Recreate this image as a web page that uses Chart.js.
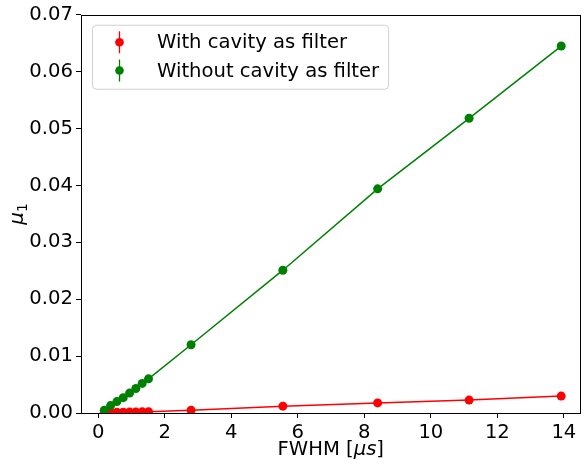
<!DOCTYPE html>
<html>
<head>
<meta charset="utf-8">
<script src="https://cdn.jsdelivr.net/npm/chart.js@4"></script>
<style>
  html, body { margin: 0; padding: 0; background: #fff; }
</style>
</head>
<body>
<canvas id="chart" width="585" height="465"></canvas>
<script>
// FWHM in microseconds, shared by both series
const fwhm = [0.18, 0.37, 0.56, 0.75, 0.94, 1.13, 1.32, 1.51, 2.79, 5.55, 8.40, 11.15, 13.92];
const muWithCavity = [0.00008, 0.0001, 0.00012, 0.00014, 0.00016, 0.00018, 0.0002, 0.00022, 0.0005, 0.0012, 0.00177, 0.00227, 0.00297];
const muWithoutCavity = [0.0005, 0.0013, 0.0020, 0.0027, 0.0035, 0.0043, 0.0052, 0.0060, 0.0120, 0.0251, 0.0394, 0.0518, 0.0645];
const seriesLabels = ['With cavity as filter', 'Without cavity as filter'];
const seriesColors = ['#ff0000', '#008000'];
const xTickValues = [0, 2, 4, 6, 8, 10, 12, 14];
const yTickValues = [0, 0.01, 0.02, 0.03, 0.04, 0.05, 0.06, 0.07];

const FONT = 'DejaVu Sans';
const toPoints = ys => fwhm.map((x, i) => ({ x, y: ys[i] }));

// draw a row of text pieces with their own fonts (for the math bits in the axis titles)
function drawRuns(ctx, runs, cx, cy) {
    let total = 0;
    runs.forEach(r => { ctx.font = r.font; r.w = ctx.measureText(r.t).width; total += r.w; });
    let x = cx - total / 2;
    ctx.textBaseline = 'alphabetic';
    ctx.textAlign = 'left';
    runs.forEach(r => {
        ctx.font = r.font;
        ctx.fillText(r.t, x, cy + (r.dy || 0));
        x += r.w;
    });
}

// frame on all four sides like matplotlib spines, plus axis titles
const framePlugin = {
    id: 'frame',
    afterDraw(chart) {
        const { ctx, chartArea: a } = chart;
        ctx.save();
        ctx.strokeStyle = '#000';
        ctx.lineWidth = 1;
        ctx.strokeRect(Math.round(a.left) + 0.5, Math.round(a.top) + 0.5, Math.round(a.right - a.left) - 1, Math.round(a.bottom - a.top));
        ctx.fillStyle = '#000';
        drawRuns(ctx, [
            { t: 'FWHM [', font: '19.6px "' + FONT + '"' },
            { t: 'μs', font: 'italic 19.6px "' + FONT + '"' },
            { t: ']', font: '19.6px "' + FONT + '"' }
        ], (a.left + a.right) / 2, a.bottom + 42);
        ctx.translate(23, (a.top + a.bottom) / 2);
        ctx.rotate(-Math.PI / 2);
        drawRuns(ctx, [
            { t: 'μ', font: 'italic 20px "' + FONT + '"' },
            { t: '1', font: '14px "' + FONT + '"', dy: 4 }
        ], 0, 0);
        ctx.restore();
    }
};

// legend box in the upper left, with errorbar-style markers
const legendPlugin = {
    id: 'boxLegend',
    afterDraw(chart) {
        const { ctx, chartArea: a } = chart;
        const ds = chart.data.datasets;
        ctx.save();
        ctx.font = '19.6px "' + FONT + '"';
        const textW = Math.max(...ds.map(d => ctx.measureText(d.label).width));
        const left = a.left + 11, top = a.top + 10;
        const markerX = left + 27.5, textX = left + 65;
        const w = textX - left + textW + 9, h = 64;
        ctx.fillStyle = 'rgba(255,255,255,0.8)';
        ctx.strokeStyle = '#d0d0d0';
        ctx.lineWidth = 1;
        ctx.beginPath();
        ctx.roundRect(left + 0.5, top + 0.5, w, h, 4);
        ctx.fill();
        ctx.stroke();
        ds.forEach((d, i) => {
            const cy = top + 17.5 + i * 28.3;
            ctx.strokeStyle = d.borderColor;
            ctx.lineWidth = 1.3;
            ctx.beginPath();
            ctx.moveTo(markerX, cy - 11);
            ctx.lineTo(markerX, cy + 11);
            ctx.stroke();
            ctx.fillStyle = d.backgroundColor;
            ctx.beginPath();
            ctx.arc(markerX, cy, 4.3, 0, Math.PI * 2);
            ctx.fill();
            ctx.fillStyle = '#000';
            ctx.textBaseline = 'middle';
            ctx.fillText(d.label, textX, cy + 1);
        });
        ctx.restore();
    }
};

new Chart(document.getElementById('chart'), {
    type: 'scatter',
    data: {
        datasets: [{
            label: seriesLabels[0],
            data: toPoints(muWithCavity),
            showLine: true,
            borderColor: seriesColors[0],
            backgroundColor: seriesColors[0],
            borderWidth: 1.5,
            pointRadius: 4.5,
            pointHoverRadius: 4.5,
            pointBorderWidth: 0,
            order: 2
        }, {
            label: seriesLabels[1],
            data: toPoints(muWithoutCavity),
            showLine: true,
            borderColor: seriesColors[1],
            backgroundColor: seriesColors[1],
            borderWidth: 1.5,
            pointRadius: 4.5,
            pointHoverRadius: 4.5,
            pointBorderWidth: 0,
            order: 1
        }]
    },
    options: {
        responsive: false,
        animation: false,
        layout: { padding: { top: 12, right: 1, left: 0, bottom: 0 } },
        plugins: { legend: { display: false }, tooltip: { enabled: false } },
        scales: {
            x: {
                type: 'linear',
                min: -0.52,
                max: 14.5,
                afterBuildTicks: s => { s.ticks = xTickValues.map(v => ({ value: v })); },
                afterFit: s => { s.height = 52; },
                border: { display: false },
                grid: { drawOnChartArea: false, drawTicks: true, tickLength: 5, color: '#000', tickWidth: 1 },
                ticks: { color: '#000', padding: 3, maxRotation: 0, font: { family: FONT, size: 19.6 }, callback: v => String(v) }
            },
            y: {
                type: 'linear',
                min: 0,
                max: 0.07,
                afterBuildTicks: s => { s.ticks = yTickValues.map(v => ({ value: v })); },
                afterFit: s => { s.width = 81; },
                border: { display: false },
                grid: { drawOnChartArea: false, drawTicks: true, tickLength: 5, color: '#000', tickWidth: 1 },
                ticks: { color: '#000', padding: 3, font: { family: FONT, size: 19.6 }, callback: v => v.toFixed(2) }
            }
        }
    },
    plugins: [framePlugin, legendPlugin]
});
</script>
</body>
</html>
